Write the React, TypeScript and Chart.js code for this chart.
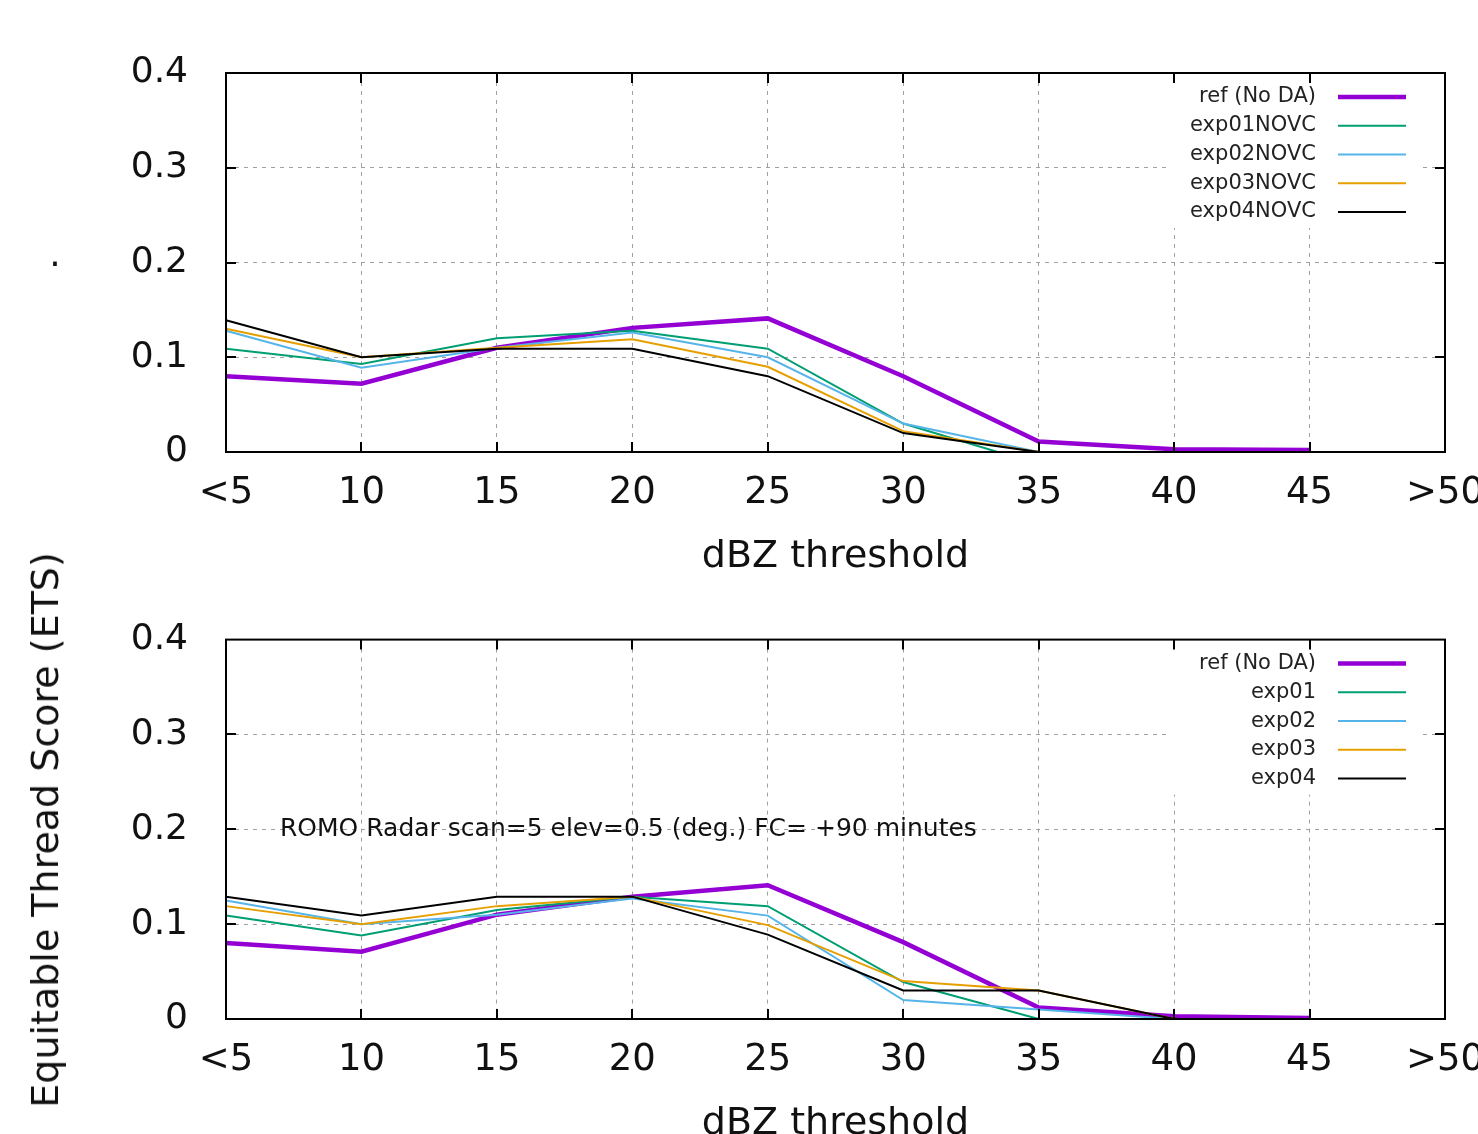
import React, { useEffect, useRef } from 'react';
import { Chart, registerables } from 'chart.js';
Chart.register(...registerables);

const categories = ['<5', '10', '15', '20', '25', '30', '35', '40', '45', '>50'];
const yTicks = [0, 0.1, 0.2, 0.3, 0.4];
const yTickLabels = ['0', '0.1', '0.2', '0.3', '0.4'];

const topLegendNames = ['ref (No DA)', 'exp01NOVC', 'exp02NOVC', 'exp03NOVC', 'exp04NOVC'];
const bottomLegendNames = ['ref (No DA)', 'exp01', 'exp02', 'exp03', 'exp04'];

// top panel (NOVC experiments)
const topRef = [0.080, 0.072, 0.110, 0.131, 0.141, 0.080, 0.011, 0.003, 0.002, null];
const topExp01 = [0.109, 0.093, 0.120, 0.128, 0.109, 0.030, -0.013, null, null, null];
const topExp02 = [0.128, 0.089, 0.110, 0.126, 0.100, 0.030, 0.000, null, null, null];
const topExp03 = [0.130, 0.100, 0.110, 0.119, 0.090, 0.022, 0.000, null, null, null];
const topExp04 = [0.139, 0.100, 0.109, 0.109, 0.080, 0.020, 0.000, null, null, null];

// bottom panel
const botRef = [0.080, 0.071, 0.110, 0.129, 0.141, 0.081, 0.012, 0.003, 0.001, null];
const botExp01 = [0.109, 0.088, 0.115, 0.129, 0.119, 0.039, 0.000, null, null, null];
const botExp02 = [0.125, 0.100, 0.110, 0.127, 0.109, 0.020, 0.010, 0.000, null, null];
const botExp03 = [0.119, 0.100, 0.119, 0.129, 0.099, 0.040, 0.030, 0.000, null, null];
const botExp04 = [0.129, 0.109, 0.129, 0.129, 0.089, 0.030, 0.030, 0.000, null, null];

const annotationText = 'ROMO Radar scan=5 elev=0.5 (deg.) FC= +90 minutes';
const xTitle = 'dBZ threshold';
const yTitle = 'Equitable Thread Score (ETS)';

const colors = ['#9400d3', '#009e73', '#56b4e9', '#e69f00', '#000000'];
const widths = [4.5, 2, 2, 2, 2];
const FONT = '"DejaVu Sans", sans-serif';
const TEXT = '#111';

function makePlugin(legendNames: string[], annotation: string | null, dot: boolean) {
  return {
    id: 'gp',
    beforeDatasetsDraw(chart: any) {
      const { ctx, chartArea: a } = chart;
      ctx.save();
      ctx.fillStyle = '#ffffff';
      ctx.fillRect(a.left + 942, a.top + 5, 250, 150);
      ctx.restore();
    },
    afterDatasetsDraw(chart: any) {
      const { ctx, chartArea: a, scales } = chart;
      const xs = scales.x;
      const ys = scales.y;
      ctx.save();
      // frame
      ctx.strokeStyle = '#000';
      ctx.lineWidth = 2;
      ctx.strokeRect(a.left, a.top, a.right - a.left, a.bottom - a.top);
      // ticks
      ctx.beginPath();
      for (let i = 1; i < categories.length - 1; i++) {
        const px = Math.round(xs.getPixelForValue(i));
        ctx.moveTo(px, a.bottom);
        ctx.lineTo(px, a.bottom - 10);
        ctx.moveTo(px, a.top);
        ctx.lineTo(px, a.top + 10);
      }
      for (let j = 1; j < yTicks.length - 1; j++) {
        const py = Math.round(ys.getPixelForValue(yTicks[j]));
        ctx.moveTo(a.left, py);
        ctx.lineTo(a.left + 10, py);
        ctx.moveTo(a.right, py);
        ctx.lineTo(a.right - 10, py);
      }
      ctx.stroke();
      // legend
      ctx.font = '21px ' + FONT;
      ctx.fillStyle = '#222';
      ctx.textAlign = 'right';
      ctx.textBaseline = 'middle';
      legendNames.forEach((name, i) => {
        const y = a.top + 24 + i * 28.75;
        ctx.fillText(name, a.left + 1090, y);
        ctx.beginPath();
        ctx.strokeStyle = colors[i];
        ctx.lineWidth = widths[i];
        ctx.moveTo(a.left + 1112, y);
        ctx.lineTo(a.left + 1180, y);
        ctx.stroke();
      });
      if (annotation) {
        ctx.font = '25px ' + FONT;
        ctx.fillStyle = '#111';
        ctx.textAlign = 'left';
        ctx.textBaseline = 'middle';
        ctx.fillText(annotation, a.left + 54, ys.getPixelForValue(0.2));
      }
      if (dot) {
        ctx.font = '36px ' + FONT;
        ctx.fillStyle = '#111';
        ctx.textAlign = 'center';
        ctx.textBaseline = 'alphabetic';
        ctx.fillText('.', 55, 266);
      }
      ctx.restore();
    },
  };
}

function buildConfig(series: (number | null)[][], legendNames: string[], padTop: number, annotation: string | null, dot: boolean): any {
  return {
    type: 'line',
    data: {
      labels: categories,
      datasets: series.map((d, i) => ({
        label: legendNames[i],
        data: d,
        borderColor: colors[i],
        backgroundColor: colors[i],
        borderWidth: widths[i],
        pointRadius: 0,
        tension: 0,
        fill: false,
        order: 5 - i,
      })),
    },
    options: {
      responsive: false,
      animation: false,
      layout: { padding: { top: padTop, left: 0, right: 75, bottom: 0 } },
      plugins: { legend: { display: false }, tooltip: { enabled: false } },
      scales: {
        x: {
          type: 'category',
          offset: false,
          grid: { color: '#a0a0a0', lineWidth: 1, drawTicks: false },
          border: { display: false, dash: [4, 5] },
          ticks: { font: { family: FONT, size: 37 }, color: TEXT, padding: 19, maxRotation: 0, autoSkip: false },
          title: { display: true, text: xTitle, font: { family: FONT, size: 38 }, color: TEXT, padding: { top: 0, bottom: 0 } },
          afterFit: (s: any) => { s.height = 128; },
        },
        y: {
          min: 0,
          max: 0.4,
          grid: { color: '#a0a0a0', lineWidth: 1, drawTicks: false },
          border: { display: false, dash: [4, 5] },
          ticks: {
            stepSize: 0.1,
            font: { family: FONT, size: 36 },
            color: TEXT,
            padding: 38,
            callback: (v: number) => {
              const idx = yTicks.findIndex((t) => Math.abs(t - v) < 1e-9);
              return idx >= 0 ? yTickLabels[idx] : '';
            },
          },
          afterFit: (s: any) => { s.width = 226; },
        },
      },
    },
    plugins: [makePlugin(legendNames, annotation, dot)],
  };
}

export default function App() {
  const topRefEl = useRef<HTMLCanvasElement>(null);
  const botRefEl = useRef<HTMLCanvasElement>(null);

  useEffect(() => {
    const c1 = new Chart(topRefEl.current as HTMLCanvasElement,
      buildConfig([topRef, topExp01, topExp02, topExp03, topExp04], topLegendNames, 73, null, true));
    const c2 = new Chart(botRefEl.current as HTMLCanvasElement,
      buildConfig([botRef, botExp01, botExp02, botExp03, botExp04], bottomLegendNames, 59, annotationText, false));
    return () => { c1.destroy(); c2.destroy(); };
  }, []);

  return (
    <div style={{ position: 'absolute', left: 0, top: 0, width: 1478, height: 1134, overflow: 'hidden', background: '#fff' }}>
      <canvas ref={topRefEl} width={1520} height={580} style={{ position: 'absolute', left: 0, top: 0 }} />
      <canvas ref={botRefEl} width={1520} height={567} style={{ position: 'absolute', left: 0, top: 580 }} />
      <div style={{
        position: 'absolute', left: 45, top: 830, transform: 'translate(-50%, -50%) rotate(-90deg)',
        whiteSpace: 'nowrap', fontFamily: FONT, fontSize: 38, color: TEXT, lineHeight: 1,
      }}>{yTitle}</div>
    </div>
  );
}
